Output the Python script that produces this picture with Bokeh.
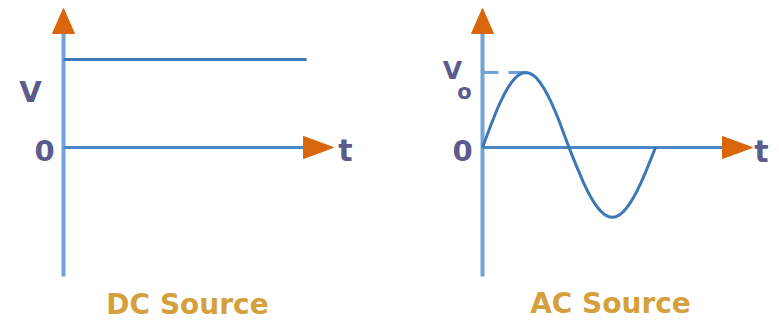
from bokeh.plotting import figure
from bokeh.layouts import row
from bokeh.models import Range1d, Label
from bokeh.embed import file_html
from bokeh.resources import INLINE

# ---- data ----
dc_t = [0.0, 1.405]          # time (arbitrary units)
dc_v = [1.0, 1.0]            # DC voltage V (normalised)

ac_t = [0.0, 0.021, 0.042, 0.063, 0.083, 0.104, 0.125, 0.146, 0.167, 0.188, 0.208,
        0.229, 0.25, 0.271, 0.292, 0.313, 0.333, 0.354, 0.375, 0.396, 0.417, 0.438,
        0.458, 0.479, 0.5, 0.521, 0.542, 0.563, 0.583, 0.604, 0.625, 0.646, 0.667,
        0.688, 0.708, 0.729, 0.75, 0.771, 0.792, 0.813, 0.833, 0.854, 0.875, 0.896,
        0.917, 0.938, 0.958, 0.979, 1.0]   # time in periods
ac_v = [0.0, 0.131, 0.259, 0.383, 0.5, 0.609, 0.707, 0.793, 0.866, 0.924, 0.966,
        0.991, 1.0, 0.991, 0.966, 0.924, 0.866, 0.793, 0.707, 0.609, 0.5, 0.383,
        0.259, 0.131, 0.0, -0.122, -0.241, -0.356, -0.465, -0.566, -0.658, -0.737,
        -0.805, -0.859, -0.898, -0.922, -0.93, -0.922, -0.898, -0.859, -0.805, -0.737,
        -0.658, -0.566, -0.465, -0.356, -0.241, -0.122, 0.0]

peak_t = 0.26
peak_v = 1.0

titles = ["DC Source", "AC Source"]

# ---- styles ----
H = 324
AX_V = "#6FA4DA"
AX_H = "#4A87C4"
CURVE = "#3B78B5"
ARROW = "#D9660B"
LBL = "#5B5B8E"
TTL = "#D4A03C"
FONT = "DejaVu Sans"


def make_panel(width, ox, oy, sx, sy):
    p = figure(width=width, height=H, output_backend="svg", toolbar_location=None,
               x_range=Range1d(-ox / sx, (width - ox) / sx),
               y_range=Range1d(-(H - oy) / sy, oy / sy),
               min_border=0, outline_line_color=None)
    p.axis.visible = False
    p.grid.visible = False
    p.background_fill_color = "white"
    p.border_fill_color = "white"
    X = lambda px: px / sx
    Y = lambda px: px / sy
    # vertical axis
    p.line([0, 0], [Y(-129), Y(116)], line_color=AX_V, line_width=4)
    p.patch([X(-11), X(11), 0], [Y(114), Y(114), Y(139)], fill_color=ARROW, line_color=ARROW)
    # horizontal axis
    p.line([0, X(242)], [0, 0], line_color=AX_H, line_width=3)
    p.patch([X(240), X(240), X(270)], [Y(11), Y(-11), 0], fill_color=ARROW, line_color=ARROW)
    return p, X, Y


def lab(p, x, y, text, size, color=LBL, weight="bold"):
    p.add_layout(Label(x=x, y=y, text=text, text_font=FONT, text_font_size=size,
                       text_font_style=weight, text_color=color,
                       text_align="center", text_baseline="middle"))


# ---- DC panel ----
p1, X1, Y1 = make_panel(389, 63, 147, 173, 88)
p1.line(dc_t, dc_v, line_color=CURVE, line_width=3)
lab(p1, X1(-19), Y1(-3), "0", "29px")
lab(p1, X1(-33), Y1(56), "V", "29px")
lab(p1, X1(282), Y1(-3), "t", "30px")
lab(p1, X1(124), Y1(-157), titles[0], "28px", color=TTL)

# ---- AC panel ----
p2, X2, Y2 = make_panel(390, 93, 147, 173, 75)
p2.line([0, peak_t], [peak_v, peak_v], line_color=AX_V, line_width=3, line_dash="16 10")
p2.line(ac_t, ac_v, line_color=CURVE, line_width=3)
lab(p2, X2(-20), Y2(-3), "0", "29px")
lab(p2, X2(-30), Y2(77), "V", "25px")
lab(p2, X2(-18), Y2(56), "o", "21px")
lab(p2, X2(279), Y2(-4), "t", "30px")
lab(p2, X2(128), Y2(-156), titles[1], "28px", color=TTL)

layout = row(p1, p2)
open("out.html", "w").write(file_html(layout, INLINE))
